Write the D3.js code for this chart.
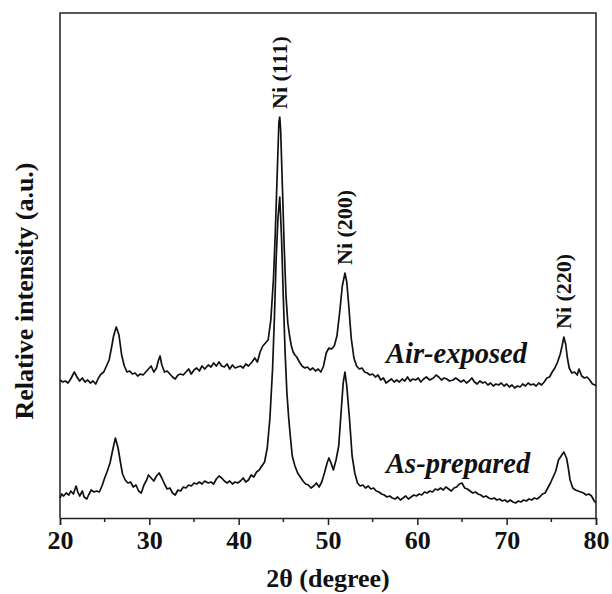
<!DOCTYPE html>
<html>
<head>
<meta charset="utf-8">
<script src="https://cdn.jsdelivr.net/npm/d3@7"></script>
<style>
  body { margin: 0; background: #fff; }
  text { font-family: "Liberation Serif", "Times New Roman", serif; font-weight: bold; fill: #111; }
</style>
</head>
<body>
<svg id="chart" width="612" height="594"></svg>
<script>
const svg = d3.select("#chart");

// 2theta (degree), relative intensity (a.u.)
const airExposed = [
  [20.0,138],[20.3,136],[20.6,137],[20.9,135],[21.2,139],[21.6,146],[21.9,141],[22.2,137],[22.5,140],[22.8,136],
  [23.1,138],[23.4,135],[23.7,137],[24.0,134],[24.3,140],[24.6,144],[24.9,146],[25.2,152],[25.5,158],[25.8,172],
  [26.0,182],[26.3,191],[26.6,183],[26.9,163],[27.2,152],[27.5,146],[27.8,147],[28.1,144],[28.4,145],[28.7,142],
  [29.0,144],[29.3,143],[29.6,146],[29.9,149],[30.2,152],[30.5,146],[30.8,150],[31.0,157],[31.2,162],[31.4,153],
  [31.7,146],[32.0,147],[32.3,144],[32.6,141],[32.9,139],[33.2,143],[33.5,144],[33.8,143],[34.1,146],[34.4,149],
  [34.7,144],[35.0,148],[35.3,150],[35.6,147],[35.9,152],[36.2,149],[36.6,153],[36.9,151],[37.2,155],[37.5,152],
  [37.8,156],[38.1,152],[38.4,151],[38.7,154],[39.0,149],[39.3,153],[39.6,150],[39.9,151],[40.2,152],[40.5,150],
  [40.8,154],[41.1,152],[41.5,156],[41.8,160],[42.1,156],[42.4,166],[42.7,172],[43.0,175],[43.3,178],[43.6,198],
  [43.9,240],[44.1,285],[44.3,340],[44.5,395],[44.6,401],[44.7,388],[44.9,330],[45.1,270],[45.3,222],[45.5,195],
  [45.7,182],[45.9,172],[46.1,166],[46.3,163],[46.5,161],[46.8,156],[47.1,152],[47.4,150],[47.7,151],[48.0,148],
  [48.3,150],[48.6,147],[48.9,149],[49.2,146],[49.5,152],[49.8,165],[50.1,170],[50.4,169],[50.7,172],[51.0,182],
  [51.3,205],[51.6,232],[51.9,245],[52.1,236],[52.3,215],[52.6,180],[52.9,160],[53.2,152],[53.5,149],[53.8,150],
  [54.1,146],[54.4,145],[54.7,143],[55.0,144],[55.3,141],[55.6,143],[55.9,138],[56.2,140],[56.5,135],[56.8,137],
  [57.1,139],[57.4,136],[57.7,138],[58.0,136],[58.3,139],[58.6,137],[58.9,141],[59.2,137],[59.5,139],[59.8,138],
  [60.1,140],[60.4,136],[60.7,139],[61.0,141],[61.4,138],[61.8,140],[62.1,143],[62.4,141],[62.7,138],[63.0,140],
  [63.3,139],[63.6,137],[64.0,138],[64.3,140],[64.6,138],[64.9,136],[65.2,138],[65.5,135],[65.8,137],[66.1,140],
  [66.4,136],[66.7,134],[67.0,137],[67.3,135],[67.6,136],[67.9,133],[68.2,135],[68.5,132],[68.8,134],[69.1,133],
  [69.4,135],[69.7,132],[70.0,134],[70.3,131],[70.6,133],[70.9,130],[71.2,132],[71.5,131],[71.8,134],[72.1,132],
  [72.4,135],[72.7,133],[73.0,134],[73.3,132],[73.6,135],[73.9,133],[74.2,136],[74.5,140],[74.8,141],[75.1,146],
  [75.4,150],[75.7,156],[76.0,164],[76.2,172],[76.4,181],[76.6,174],[76.8,160],[77.0,150],[77.3,145],[77.6,146],
  [77.9,143],[78.1,149],[78.4,142],[78.7,140],[79.0,141],[79.3,138],[79.6,134],[79.9,133],[80.0,132]
];

const asPrepared = [
  [20.0,20],[20.2,24],[20.4,22],[20.7,25],[21.0,23],[21.2,27],[21.5,24],[21.8,32],[22.0,26],[22.2,22],
  [22.5,27],[22.7,21],[23.0,19],[23.2,23],[23.5,28],[23.8,26],[24.1,27],[24.4,26],[24.7,32],[25.0,40],
  [25.3,47],[25.6,55],[25.9,68],[26.2,80],[26.5,70],[26.8,54],[27.0,44],[27.3,38],[27.6,35],[27.9,36],
  [28.2,31],[28.5,33],[28.8,27],[29.1,25],[29.4,33],[29.7,38],[29.9,43],[30.2,40],[30.5,37],[30.8,42],
  [31.1,45],[31.4,40],[31.7,34],[32.0,29],[32.3,30],[32.6,25],[32.9,23],[33.2,28],[33.5,27],[33.8,31],
  [34.1,30],[34.4,33],[34.7,32],[35.0,35],[35.3,34],[35.6,36],[35.9,34],[36.2,37],[36.6,35],[36.9,36],
  [37.2,34],[37.5,39],[37.8,42],[38.1,40],[38.4,37],[38.7,35],[39.0,37],[39.3,34],[39.6,36],[39.9,35],
  [40.2,37],[40.5,40],[40.8,36],[41.1,38],[41.4,43],[41.7,41],[42.0,46],[42.3,48],[42.6,52],[42.9,56],
  [43.2,70],[43.5,100],[43.8,150],[44.0,200],[44.2,260],[44.4,300],[44.6,321],[44.8,280],[45.0,220],[45.2,165],
  [45.4,125],[45.6,100],[45.8,80],[46.0,62],[46.3,52],[46.6,45],[46.9,41],[47.2,37],[47.5,34],[47.8,33],
  [48.1,30],[48.4,32],[48.7,35],[49.0,31],[49.3,36],[49.6,45],[49.9,55],[50.1,60],[50.3,56],[50.6,48],
  [50.9,58],[51.2,72],[51.5,110],[51.7,135],[51.9,146],[52.1,132],[52.4,100],[52.7,62],[53.0,45],[53.3,35],
  [53.6,32],[53.9,33],[54.2,30],[54.5,32],[54.8,29],[55.1,30],[55.4,27],[55.7,26],[56.0,24],[56.3,23],
  [56.6,21],[56.9,22],[57.2,20],[57.5,19],[57.8,21],[58.1,18],[58.4,20],[58.7,22],[59.0,19],[59.3,21],
  [59.6,23],[59.9,22],[60.2,24],[60.5,23],[60.8,26],[61.1,25],[61.4,27],[61.7,26],[62.0,29],[62.3,28],
  [62.6,30],[62.9,28],[63.2,31],[63.5,29],[63.8,27],[64.1,30],[64.4,31],[64.7,34],[65.0,35],[65.3,30],
  [65.6,29],[65.9,27],[66.2,25],[66.5,26],[66.8,24],[67.1,23],[67.4,21],[67.7,22],[68.0,20],[68.3,19],
  [68.6,20],[68.9,18],[69.2,19],[69.5,17],[69.8,18],[70.1,16],[70.4,18],[70.7,16],[71.0,15],[71.3,17],
  [71.6,16],[71.9,18],[72.2,17],[72.5,19],[72.8,18],[73.1,20],[73.4,19],[73.7,21],[74.0,24],[74.3,25],
  [74.6,30],[74.9,35],[75.2,41],[75.5,47],[75.8,58],[76.1,62],[76.4,66],[76.7,60],[76.9,50],[77.1,38],
  [77.4,30],[77.7,28],[78.0,27],[78.3,26],[78.6,25],[78.9,23],[79.2,24],[79.5,22],[79.8,17],[80.0,15]
];

const peakLabels = [
  {text: "Ni (111)", x: 44.6, y: 401},
  {text: "Ni (200)", x: 51.9, y: 245},
  {text: "Ni (220)", x: 76.4, y: 181}
];
const seriesLabels = [
  {text: "Air-exposed", x: 56.5, y: 155},
  {text: "As-prepared", x: 56.5, y: 45}
];
const majorTicks = [20, 30, 40, 50, 60, 70, 80];
const minorTicks = [25, 35, 45, 55, 65, 75];

const LEFT = 60, RIGHT = 596, TOP = 13, BOTTOM = 518;

let xscale = d3.scaleLinear().domain([20, 80]).range([LEFT, RIGHT]);
let yscale = d3.scaleLinear().domain([0, 505]).range([BOTTOM, TOP]);

function main() {
    drawFrame();
    drawTraces();
    drawLabels();
}

function drawFrame() {
    // bottom axis with ticks pointing out
    const xAxis = d3.axisBottom(xscale)
        .tickValues(majorTicks)
        .tickSize(7)
        .tickPadding(6)
        .tickFormat(d3.format("d"));
    const gx = svg.append("g")
        .attr("transform", `translate(0,${BOTTOM})`)
        .call(xAxis);
    gx.select(".domain").attr("stroke", "#222").attr("stroke-width", 1.5);
    gx.selectAll(".tick line").attr("stroke", "#222").attr("stroke-width", 1.5);
    gx.selectAll(".tick text")
        .attr("font-weight", "bold")
        .attr("font-size", 26)
        .attr("fill", "#111");

    svg.append("g").selectAll("line").data(minorTicks).join("line")
        .attr("x1", d => xscale(d)).attr("x2", d => xscale(d))
        .attr("y1", BOTTOM).attr("y2", BOTTOM + 4)
        .attr("stroke", "#222").attr("stroke-width", 1.5);

    // left, top, right border
    svg.append("path")
        .attr("d", `M${LEFT},${BOTTOM}V${TOP}H${RIGHT}V${BOTTOM}`)
        .attr("fill", "none")
        .attr("stroke", "#222")
        .attr("stroke-width", 1.5);

    svg.append("text")
        .attr("x", (LEFT + RIGHT) / 2)
        .attr("y", 587)
        .attr("text-anchor", "middle")
        .attr("font-size", 26)
        .text("2θ (degree)");

    svg.append("text")
        .attr("transform", "translate(33,291) rotate(-90)")
        .attr("text-anchor", "middle")
        .attr("font-size", 26)
        .text("Relative intensity (a.u.)");
}

function drawTraces() {
    const line = d3.line()
        .x(d => xscale(d[0]))
        .y(d => yscale(d[1]));

    svg.selectAll(".trace").data([airExposed, asPrepared]).join("path")
        .attr("class", "trace")
        .attr("d", line)
        .attr("fill", "none")
        .attr("stroke", "#111")
        .attr("stroke-width", 1.7)
        .attr("stroke-linejoin", "round");
}

function drawLabels() {
    svg.selectAll(".peak").data(peakLabels).join("text")
        .attr("class", "peak")
        .attr("transform", d => `translate(${xscale(d.x) + 7},${yscale(d.y) - 8}) rotate(-90)`)
        .attr("text-anchor", "start")
        .attr("font-size", 22)
        .text(d => d.text);

    svg.selectAll(".series").data(seriesLabels).join("text")
        .attr("class", "series")
        .attr("x", d => xscale(d.x))
        .attr("y", d => yscale(d.y))
        .attr("font-size", 28.5)
        .attr("font-style", "italic")
        .text(d => d.text);
}

main();
</script>
</body>
</html>
